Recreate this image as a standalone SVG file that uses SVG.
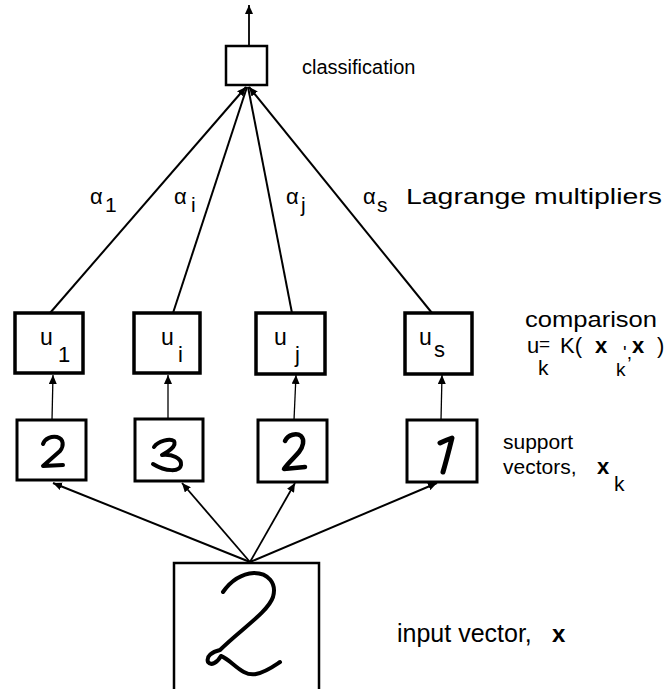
<svg xmlns="http://www.w3.org/2000/svg" width="670" height="689" viewBox="0 0 670 689">
<style>
text{font-family:"Liberation Sans",Arial,sans-serif;fill:#000}
.lbl{font-size:22px}
.u{font-size:23px}
.sub{font-size:19px}
.bs{font-size:22px}
.as{font-size:21px}
.b{font-weight:bold}
.box{fill:#fff;stroke:#000}
.w{fill:none;stroke:#000;stroke-linecap:round;stroke-linejoin:round}
.c{fill:none;stroke:#000}
</style>
<defs>
<marker id="ah" markerUnits="userSpaceOnUse" markerWidth="10" markerHeight="8" refX="9" refY="4" orient="auto">
<path d="M0,0 L9,4 L0,8 Z" fill="#000"/>
</marker>
</defs>
<rect width="670" height="689" fill="#fff"/>
<g id="connectors">
<line class="c" x1="249" y1="46" x2="249" y2="5" stroke-width="1.8" marker-end="url(#ah)"/>
<line class="c" x1="50" y1="313" x2="246" y2="87" stroke-width="2" marker-end="url(#ah)"/>
<line class="c" x1="173" y1="313" x2="247" y2="87" stroke-width="2"/>
<line class="c" x1="292" y1="313" x2="248" y2="87" stroke-width="2"/>
<line class="c" x1="432" y1="313" x2="249" y2="87" stroke-width="2" marker-end="url(#ah)"/>
<line class="c" x1="52" y1="420" x2="53" y2="375" stroke-width="1.3" marker-end="url(#ah)"/>
<line class="c" x1="168" y1="418" x2="168" y2="375" stroke-width="1.3" marker-end="url(#ah)"/>
<line class="c" x1="294" y1="420" x2="296" y2="375" stroke-width="1.3" marker-end="url(#ah)"/>
<line class="c" x1="441" y1="420" x2="442" y2="375" stroke-width="1.3" marker-end="url(#ah)"/>
<line class="c" x1="250" y1="562" x2="53" y2="483" stroke-width="2" marker-end="url(#ah)"/>
<line class="c" x1="250" y1="562" x2="182" y2="483" stroke-width="1.8" marker-end="url(#ah)"/>
<line class="c" x1="250" y1="562" x2="295" y2="483" stroke-width="1.8" marker-end="url(#ah)"/>
<line class="c" x1="250" y1="562" x2="437" y2="483" stroke-width="2" marker-end="url(#ah)"/>
</g>
<g id="classification">
<rect class="box" x="226" y="46" width="41" height="39" stroke-width="2.5"/>
<text x="302" y="74" style="font-size:20px">classification</text>
</g>
<g id="lagrange">
<text x="90" y="204" class="lbl">α</text><text x="105" y="212" class="as">1</text>
<text x="174" y="204" class="lbl">α</text><text x="191" y="212" class="as">i</text>
<text x="286" y="204" class="lbl">α</text><text x="301" y="212" class="as">j</text>
<text x="363" y="204" class="lbl">α</text><text x="377" y="212" class="as">s</text>
<text x="406" y="204" class="lbl" textLength="256" lengthAdjust="spacingAndGlyphs">Lagrange multipliers</text>
</g>
<g id="u1">
<rect class="box" x="15" y="313" width="68" height="60" stroke-width="3.5"/>
<text x="40" y="345" class="u">u</text><text x="58" y="362" class="bs">1</text>
</g>
<g id="ui">
<rect class="box" x="134" y="313" width="66" height="60" stroke-width="3.5"/>
<text x="161" y="345" class="u">u</text><text x="178" y="362" class="bs">i</text>
</g>
<g id="uj">
<rect class="box" x="256" y="313" width="69" height="61" stroke-width="3.5"/>
<text x="274" y="345" class="u">u</text><text x="295" y="362" class="bs">j</text>
</g>
<g id="us">
<rect class="box" x="405" y="313" width="67" height="61" stroke-width="3.5"/>
<text x="419" y="345" class="u">u</text><text x="434" y="357" class="bs">s</text>
</g>
<g id="comparison">
<text x="525" y="327" class="lbl" textLength="132" lengthAdjust="spacingAndGlyphs">comparison</text>
<text x="527" y="353" class="lbl">u</text><text x="538" y="375" class="as">k</text>
<text x="539" y="350" style="font-size:19px">=</text>
<text x="560" y="353" class="lbl">K(</text>
<text x="595" y="353" class="lbl b">x</text><text x="616" y="376" class="sub">k</text>
<text x="623" y="359" class="sub">',</text>
<text x="632" y="353" class="lbl b">x</text>
<text x="657" y="353" class="lbl">)</text>
</g>
<g id="sv1">
<rect class="box" x="17" y="420" width="69" height="60" stroke-width="3"/>
<path class="w" stroke-width="4" d="M43,444 C45,438 52,436 57,437 C64,439 64,446 60,451 L43,466 L63,465"/>
</g>
<g id="sv2">
<rect class="box" x="135" y="419" width="68" height="62" stroke-width="3"/>
<path class="w" stroke-width="4" d="M154,447 C158,441 170,438 174,441 C177,446 168,452 162,455 C172,454 182,458 181,465 C180,472 166,472 153,464"/>
</g>
<g id="sv3">
<rect class="box" x="258" y="420" width="69" height="62" stroke-width="3"/>
<path class="w" stroke-width="4.5" d="M285,441 C288,434 297,433 301,436 C305,440 303,447 299,452 C294,458 288,463 284,469 L305,467"/>
</g>
<g id="sv4">
<rect class="box" x="407" y="420" width="70" height="62" stroke-width="3"/>
<path class="w" stroke-width="5" d="M440,443 C444,441 449,439 452,438 C449,450 446,462 443,472"/>
</g>
<g id="support">
<text x="503" y="449" style="font-size:21px">support</text>
<text x="503" y="474" style="font-size:21px">vectors,</text>
<text x="597" y="474" class="lbl b">x</text><text x="614" y="491" class="as">k</text>
</g>
<g id="input">
<rect class="box" x="174" y="563" width="145" height="130" stroke-width="2.5"/>
<path class="w" stroke-width="4" d="M223,592 C230,582 240,574 254,573 C268,573 277,583 273,597 C268,612 240,630 220,650 C212,652 206,656 208,662 C211,666 217,663 221,656 C232,660 242,677 256,674 C266,672 274,666 280,662"/>
<text x="397" y="642" style="font-size:25px">input vector,</text>
<text x="552" y="642" style="font-size:24px;font-weight:bold">x</text>
</g>
</svg>
